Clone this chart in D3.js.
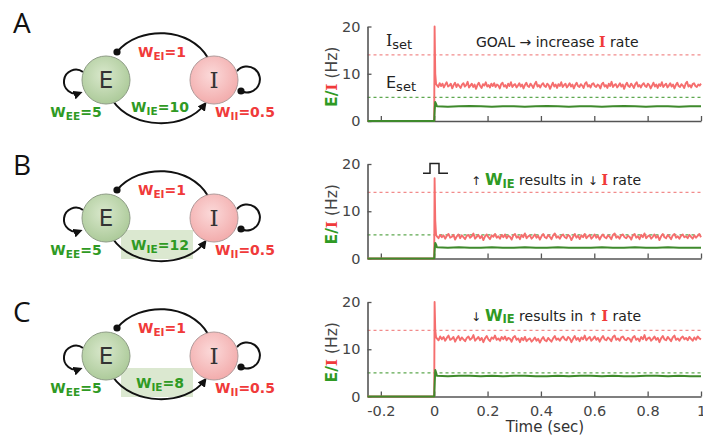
<!DOCTYPE html>
<html><head><meta charset="utf-8">
<script src="https://cdn.jsdelivr.net/npm/d3@7"></script>
<style>body{margin:0;background:#fff}svg{display:block}</style>
</head><body><svg id="c" width="703" height="438"></svg>
<script>
// ---------------- data ----------------
const panelLetters = ["A", "B", "C"];
const wEE = [5, 5, 5];
const wEI = [1, 1, 1];
const wIE = [10, 12, 8];
const wII = [0.5, 0.5, 0.5];
const xTicks = [-0.2, 0, 0.2, 0.4, 0.6, 0.8, 1];
const xTickLabels = ["-0.2", "0", "0.2", "0.4", "0.6", "0.8", "1"];
const yTicks = [0, 10, 20];
const iSet = 14, eSet = 5;

// transient (pre-stimulus baseline + onset spike)
const transientTimes = [-0.25, 0, 0.0015, 0.004, 0.007];
const iTransient = [
  [0, 0, 20, 10, 7.8],
  [0, 0, 17, 8, 5.0],
  [0, 0, 20, 14, 12.5]
];
const eTransientTimes = [-0.25, 0, 0.002, 0.004, 0.008];
const eTransient = [
  [0, 0, 2.5, 4.0, 3.5],
  [0, 0, 2.0, 3.3, 2.8],
  [0, 0, 3.0, 5.6, 4.9]
];
const steadyStart = 0.01;

// steady-state I rates (Hz)
const iSteadyA = [7.6,7.2,8.0,7.4,7.9,7.1,7.7,8.2,7.3,7.5,7.9,6.9,7.6,8.1,7.2,7.8,7.4,7.0,7.7,8.0,
7.3,7.6,8.3,7.1,7.5,7.9,7.2,7.7,6.8,7.6,8.1,7.4,7.0,7.8,7.5,8.2,7.3,7.6,7.1,7.9,
7.4,8.0,7.2,7.7,7.5,6.9,7.8,8.1,7.3,7.6,7.0,7.9,7.4,8.2,7.2,7.6,7.8,7.1,7.5,8.0,
7.3,7.7,6.9,7.6,8.1,7.4,7.2,7.9,7.5,7.0,7.8,8.3,7.3,7.6,7.1,7.7,8.0,7.4,7.2,7.9,
7.6,6.8,7.5,8.1,7.3,7.7,7.0,7.8,7.4,8.2,7.2,7.6,7.9,7.1,7.5,8.0,7.3,7.7,6.9,7.6,
8.1,7.4,7.2,7.8,7.5,7.0,7.9,8.2,7.3,7.6,7.1,7.8,8.0,7.4,7.2,7.7,7.5,6.9,7.8,8.1,
7.3,7.6,7.0,7.9,7.4,8.3,7.2,7.6,7.8,7.1,7.5,8.0,7.3,7.7,6.8,7.6,8.1,7.4,7.2,7.9,
7.5,7.0,7.8,8.2,7.3,7.6,7.1,7.7,8.0,7.4,7.2,7.9,7.6,6.9,7.5,8.1,7.3,7.7,7.0,7.8,
7.4,8.2,7.2,7.6,7.9,7.1,7.5,8.0,7.3,7.7,6.9,7.6,8.1,7.4,7.2,7.8,7.5,7.0,7.9,8.3,
7.3,7.6,7.1,7.8,8.0,7.4,7.2,7.7,7.5,7.9];
const iSteadyB = [4.7,4.3,5.0,4.5,4.9,4.2,4.8,5.2,4.4,4.6,5.0,4.0,4.7,5.1,4.3,4.9,4.5,4.1,4.8,5.0,
4.4,4.7,5.3,4.2,4.6,5.0,4.3,4.8,3.9,4.7,5.1,4.5,4.1,4.9,4.6,5.2,4.4,4.7,4.2,5.0,
4.5,5.1,4.3,4.8,4.6,4.0,4.9,5.2,4.4,4.7,4.1,5.0,4.5,5.3,4.3,4.7,4.9,4.2,4.6,5.1,
4.4,4.8,4.0,4.7,5.2,4.5,4.3,5.0,4.6,4.1,4.9,5.3,4.4,4.7,4.2,4.8,5.1,4.5,4.3,5.0,
4.7,3.9,4.6,5.2,4.4,4.8,4.1,4.9,4.5,5.2,4.3,4.7,5.0,4.2,4.6,5.1,4.4,4.8,4.0,4.7,
5.1,4.5,4.3,4.9,4.6,4.1,5.0,5.3,4.4,4.7,4.2,4.9,5.1,4.5,4.3,4.8,4.6,4.0,4.9,5.2,
4.4,4.7,4.1,5.0,4.5,5.3,4.3,4.7,4.9,4.2,4.6,5.1,4.4,4.8,3.9,4.7,5.2,4.5,4.3,5.0,
4.6,4.1,4.9,5.2,4.4,4.7,4.2,4.8,5.1,4.5,4.7,4.3,5.0,4.6,4.2,4.9,4.4,4.8,5.2,4.5];
const iSteadyC = [12.3,11.9,12.7,12.1,12.6,11.8,12.4,12.9,12.0,12.2,12.6,11.6,12.3,12.8,11.9,12.5,12.1,11.7,12.4,12.7,
12.0,12.3,13.0,11.8,12.2,12.6,11.9,12.4,11.5,12.3,12.8,12.1,11.7,12.5,12.2,12.9,12.0,12.3,11.8,12.6,
12.1,12.7,11.9,12.4,12.2,11.6,12.5,12.8,12.0,12.3,11.5,12.4,11.9,12.6,11.7,12.1,12.3,11.6,12.0,12.5,
11.8,12.2,11.4,12.1,12.6,11.9,11.7,12.4,12.0,11.6,12.3,12.8,12.0,12.3,11.8,12.4,12.7,12.1,11.9,12.6,
12.3,11.5,12.2,12.8,12.0,12.4,11.7,12.5,12.1,12.9,11.9,12.3,12.6,11.8,12.2,12.7,12.0,12.4,11.6,12.3,
12.8,12.1,11.9,12.5,12.2,11.7,12.6,12.9,12.0,12.3,11.8,12.5,12.7,12.1,11.9,12.4,12.2,11.6,12.5,12.8,
12.0,12.3,11.7,12.6,12.1,13.0,11.9,12.3,12.5,11.8,12.2,12.7,12.0,12.4,11.5,12.3,12.8,12.1,11.9,12.6,
12.2,11.7,12.5,12.9,12.0,12.3,11.8,12.4,12.7,12.1,12.4,11.9,12.6,12.2,11.8,12.5,12.0,12.7,12.3,12.1];
// steady-state E rates (Hz)
const eSteadyA = [3.1,3.0,3.1,3.2,3.1,3.0,3.1,3.1,3.0,3.1,3.2,3.1,3.0,3.1,3.1,3.0,3.1,3.2,3.1,3.0,3.1,3.1,3.0,3.1,3.1];
const eSteadyB = [2.4,2.3,2.4,2.3,2.3,2.4,2.3,2.3,2.4,2.3,2.3,2.4,2.3,2.3,2.3,2.4,2.3,2.3,2.4,2.3,2.3,2.4,2.3,2.3,2.3];
const eSteadyC = [4.4,4.3,4.4,4.4,4.3,4.4,4.3,4.4,4.4,4.3,4.3,4.4,4.3,4.4,4.4,4.3,4.4,4.3,4.3,4.4,4.4,4.3,4.4,4.3,4.3];
const iSteady = [iSteadyA, iSteadyB, iSteadyC];
const eSteady = [eSteadyA, eSteadyB, eSteadyC];

// ---------------- drawing ----------------
const GREEN_TXT = "#2f9a24", RED_TXT = "#f03a3a";
const RED_LINE = "#f56e6e", GREEN_LINE = "#3f8a2c";
const FONT = "'DejaVu Sans', Verdana, sans-serif";
const SERIF = "'DejaVu Serif', serif";

const svg = d3.select("#c");
svg.append("rect").attr("width", 703).attr("height", 438).attr("fill", "#fff");
const defs = svg.append("defs");
defs.append("marker").attr("id", "arr").attr("viewBox", "0 0 10 10")
  .attr("refX", 7).attr("refY", 5).attr("markerWidth", 9).attr("markerHeight", 9)
  .attr("markerUnits", "userSpaceOnUse").attr("orient", "auto")
  .append("path").attr("d", "M0,0 L10,5 L0,10 Z").attr("fill", "#111");
const gE = defs.append("radialGradient").attr("id", "gE").attr("cx", "45%").attr("cy", "40%").attr("r", "65%");
gE.append("stop").attr("offset", "0%").attr("stop-color", "#d9e8cc");
gE.append("stop").attr("offset", "100%").attr("stop-color", "#a9c896");
const gI = defs.append("radialGradient").attr("id", "gI").attr("cx", "45%").attr("cy", "40%").attr("r", "65%");
gI.append("stop").attr("offset", "0%").attr("stop-color", "#fbd9d9");
gI.append("stop").attr("offset", "100%").attr("stop-color", "#f2a9a9");

const x = d3.scaleLinear().domain([-0.25, 1]).range([367.5, 701]);
const plotBase = [121, 258.5, 396.5];
const diagOffset = [0, 138, 276];
const letterBase = [33, 175, 322];

function wLabel(g, cx, cy, sub, val, color) {
  const t = g.append("text").attr("x", cx).attr("y", cy).attr("text-anchor", "middle")
    .attr("font-family", FONT).attr("font-weight", "bold").attr("fill", color).attr("font-size", 14);
  t.append("tspan").text("W");
  t.append("tspan").attr("font-size", 10.5).attr("dy", 2.5).text(sub);
  t.append("tspan").attr("dy", -2.5).text("=" + val);
}

panelLetters.forEach((L, k) => {
  // panel letter
  svg.append("text").attr("x", 13).attr("y", letterBase[k]).attr("font-family", "'Open Sans', " + FONT)
    .attr("font-size", 28).attr("fill", "#111").text(L);

  // ---- network diagram ----
  const g = svg.append("g").attr("transform", `translate(0,${diagOffset[k]})`);
  if (k > 0) g.append("rect").attr("x", 121).attr("y", 92).attr("width", 72).attr("height", 29)
    .attr("fill", "#dbe8d0");
  g.append("path").attr("d", "M208,58 C190,27 140,25 117,52").attr("fill", "none")
    .attr("stroke", "#111").attr("stroke-width", 2);
  g.append("circle").attr("cx", 117).attr("cy", 52).attr("r", 3.6).attr("fill", "#111");
  g.append("path").attr("d", "M113,101 C132,129 185,131 205,104").attr("fill", "none")
    .attr("stroke", "#111").attr("stroke-width", 2).attr("marker-end", "url(#arr)");
  g.append("path").attr("d", "M83,72 A12,12 0 1 0 80,93").attr("fill", "none")
    .attr("stroke", "#111").attr("stroke-width", 2).attr("marker-end", "url(#arr)");
  g.append("path").attr("d", "M237,71 A13,13 0 1 1 241,91").attr("fill", "none")
    .attr("stroke", "#111").attr("stroke-width", 2);
  g.append("circle").attr("cx", 241).attr("cy", 91).attr("r", 3.6).attr("fill", "#111");
  g.append("circle").attr("cx", 106).attr("cy", 80).attr("r", 24).attr("fill", "url(#gE)")
    .attr("stroke", "#8e9c86").attr("stroke-width", 1);
  g.append("circle").attr("cx", 214).attr("cy", 80).attr("r", 24).attr("fill", "url(#gI)")
    .attr("stroke", "#b09a9a").attr("stroke-width", 1);
  g.append("text").attr("x", 106).attr("y", 88).attr("text-anchor", "middle").attr("font-family", FONT)
    .attr("font-size", 23).attr("fill", "#333").text("E");
  g.append("text").attr("x", 214).attr("y", 88).attr("text-anchor", "middle").attr("font-family", SERIF)
    .attr("font-size", 23).attr("fill", "#333").text("I");
  wLabel(g, 162, 57, "EI", wEI[k], RED_TXT);
  wLabel(g, 160, 112, "IE", wIE[k], GREEN_TXT);
  wLabel(g, 76, 117, "EE", wEE[k], GREEN_TXT);
  wLabel(g, 245, 117, "II", wII[k], RED_TXT);

  // ---- time-series plot ----
  const y = d3.scaleLinear().domain([0, 20]).range([plotBase[k], plotBase[k] - 94.5]);
  const p = svg.append("g");

  // set-point dashed lines
  p.append("line").attr("x1", x(-0.25)).attr("x2", 703).attr("y1", y(iSet)).attr("y2", y(iSet))
    .attr("stroke", "#f28b8b").attr("stroke-width", 1.2).attr("stroke-dasharray", "3,3");
  p.append("line").attr("x1", x(-0.25)).attr("x2", 703).attr("y1", y(eSet)).attr("y2", y(eSet))
    .attr("stroke", "#5ea84f").attr("stroke-width", 1.2).attr("stroke-dasharray", "3,3");

  // axes
  const ya = p.append("g").attr("transform", `translate(${x(-0.25)},0)`)
    .call(d3.axisLeft(y).tickValues(yTicks).tickSize(-4).tickSizeOuter(0).tickPadding(7));
  const xa = p.append("g").attr("transform", `translate(0,${y(0)})`)
    .call(d3.axisBottom(x).tickValues(xTicks).tickSize(-5).tickSizeOuter(0).tickPadding(9)
      .tickFormat((d, i) => k === 2 ? xTickLabels[i] : ""));
  [ya, xa].forEach(a => {
    a.select(".domain").attr("stroke", "#555").attr("stroke-width", 1.6);
    a.selectAll(".tick line").attr("stroke", "#555").attr("stroke-width", 1.3);
    a.selectAll(".tick text").attr("font-family", FONT).attr("font-size", 14.5).attr("fill", "#444");
  });

  // traces
  const n = iSteady[k].length, m = eSteady[k].length;
  const iData = transientTimes.map((t, j) => [t, iTransient[k][j]])
    .concat(iSteady[k].map((v, j) => [steadyStart + j * (1 - steadyStart) / (n - 1), v]));
  const eData = eTransientTimes.map((t, j) => [t, eTransient[k][j]])
    .concat(eSteady[k].map((v, j) => [steadyStart + j * (1 - steadyStart) / (m - 1), v]));
  const line = d3.line().x(d => x(d[0])).y(d => y(d[1]));
  p.append("path").datum(iData).attr("d", line).attr("fill", "none")
    .attr("stroke", RED_LINE).attr("stroke-width", 1.9).attr("stroke-linejoin", "round");
  p.append("path").datum(eData).attr("d", line).attr("fill", "none")
    .attr("stroke", GREEN_LINE).attr("stroke-width", 2).attr("stroke-linejoin", "round");

  // y label
  const yl = p.append("text").attr("transform", `translate(337,${y(10) + 3}) rotate(-90)`)
    .attr("text-anchor", "middle").attr("font-family", FONT).attr("font-size", 15.5).attr("fill", "#444");
  yl.append("tspan").attr("font-weight", "bold").attr("fill", GREEN_TXT).text("E/");
  yl.append("tspan").attr("font-weight", "bold").attr("fill", RED_TXT).attr("font-family", SERIF).text("I");
  yl.append("tspan").text(" (Hz)");

  // annotations
  if (k === 0) {
    const t1 = p.append("text").attr("x", 386).attr("y", 46).attr("font-family", FONT).attr("font-size", 16).attr("fill", "#222");
    t1.append("tspan").attr("font-family", SERIF).text("I");
    t1.append("tspan").attr("font-size", 13).attr("dy", 3).text("set");
    const t2 = p.append("text").attr("x", 386).attr("y", 88).attr("font-family", FONT).attr("font-size", 16).attr("fill", "#222");
    t2.append("tspan").text("E");
    t2.append("tspan").attr("font-size", 13).attr("dy", 3).text("set");
    const t3 = p.append("text").attr("x", 476).attr("y", 47).attr("font-family", FONT).attr("font-size", 14).attr("fill", "#222");
    t3.append("tspan").text("GOAL \u2192 increase ");
    t3.append("tspan").attr("font-family", SERIF).attr("font-weight", "bold").attr("fill", RED_TXT).text("I");
    t3.append("tspan").text(" rate");
  } else {
    const up = k === 1 ? "\u2191" : "\u2193", dn = k === 1 ? "\u2193" : "\u2191";
    const ty = k === 1 ? 185 : 320.5;
    const t = p.append("text").attr("x", 471).attr("y", ty).attr("font-family", FONT).attr("font-size", 14).attr("fill", "#222");
    t.append("tspan").attr("font-size", 12).text(up + " ");
    t.append("tspan").attr("font-weight", "bold").attr("fill", GREEN_TXT).attr("font-size", 16).text("W");
    t.append("tspan").attr("font-weight", "bold").attr("fill", GREEN_TXT).attr("font-size", 11.5).attr("dy", 2.5).text("IE");
    t.append("tspan").attr("dy", -2.5).text(" results in ");
    t.append("tspan").attr("font-size", 12).text(dn + " ");
    t.append("tspan").attr("font-family", SERIF).attr("font-weight", "bold").attr("fill", RED_TXT).text("I");
    t.append("tspan").text(" rate");
  }
  if (k === 1) {
    // stimulus pulse
    p.append("path").attr("d", "M423,173.3 H430 V163.5 H439 V173.3 H448").attr("fill", "none")
      .attr("stroke", "#222").attr("stroke-width", 1.5);
  }
});

svg.append("text").attr("x", 545).attr("y", 432).attr("text-anchor", "middle")
  .attr("font-family", FONT).attr("font-size", 15).attr("fill", "#333").text("Time (sec)");
</script></body></html>
